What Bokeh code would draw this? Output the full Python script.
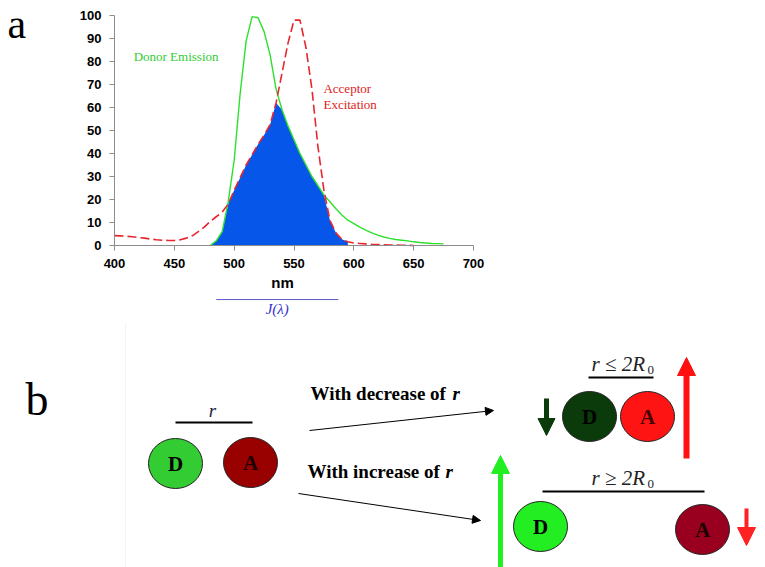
from bokeh.plotting import figure
from bokeh.models import Range1d, FixedTicker, Label, Arrow, NormalHead
from bokeh.layouts import column
from bokeh.embed import file_html
from bokeh.resources import INLINE
from bokeh.core.properties import value

# ---------------- data (panel a) ----------------
donor_nm = list(range(480, 680, 5))
donor = [0, 2, 6, 19, 37, 66, 89, 99.5, 99, 93,
         83, 68, 59, 52, 46, 40, 35, 30, 26, 22,
         19, 16, 13.3, 11, 9.5, 8, 6.7, 5.5, 4.5, 3.7,
         3.1, 2.6, 2.3, 2.0, 1.6, 1.3, 1.1, 0.9, 0.8, 0.7]

acceptor_nm = list(range(400, 655, 5))
acceptor = [4.3, 4.2, 4.0, 3.8, 3.5, 3.2, 2.8, 2.5, 2.3, 2.2,
            2.2, 2.5, 3.2, 4.2, 6.0, 8.0, 10.5, 12.5, 14.5, 18,
            24, 29.5, 35, 39.5, 44, 48, 52.5, 62, 75, 88,
            98, 98, 86, 68, 43, 24, 11, 5.5, 2.7, 1.6,
            1.1, 0.9, 0.7, 0.5, 0.4, 0.3, 0.2, 0.2, 0.1, 0.1, 0]

x_ticks = [400, 450, 500, 550, 600, 650, 700]
y_ticks = [0, 10, 20, 30, 40, 50, 60, 70, 80, 90, 100]
overlap_range = (480, 595)      # spectral overlap region shown in blue
j_range = (485, 587)            # J(lambda) bracket

acc_map = dict(zip(acceptor_nm, acceptor))
ov_nm = [w for w in donor_nm if w in acc_map and overlap_range[0] <= w <= overlap_range[1]]
ov_val = [min(d, acc_map[w]) for w, d in zip(donor_nm, donor) if w in ov_nm]

SERIF = "Liberation Serif"
SANS = "Liberation Sans"

# full-canvas frame; axes drawn at fixed data locations
W, HA, HB = 765, 323, 244
pxn = 359 / 300.0     # px per nm
pxv = 2.3             # px per intensity unit
x0_px, y0_px = 114, 245
pa = figure(width=W, height=HA, output_backend="svg", toolbar_location=None,
            x_range=Range1d(400 - x0_px / pxn, 400 + (W - x0_px) / pxn),
            y_range=Range1d(-(HA - y0_px) / pxv, y0_px / pxv),
            min_border=0)
pa.grid.visible = False
pa.outline_line_color = None
pa.xaxis.ticker = FixedTicker(ticks=x_ticks)
pa.yaxis.ticker = FixedTicker(ticks=y_ticks)
pa.xaxis.bounds = (400, 700)
pa.yaxis.bounds = (0, 100)
pa.xaxis.fixed_location = 0
pa.yaxis.fixed_location = 400
for ax in (pa.xaxis[0], pa.yaxis[0]):
    ax.axis_line_color = "#8c8c8c"
    ax.major_tick_line_color = "#8c8c8c"
    ax.major_tick_in = 0
    ax.major_tick_out = 5
    ax.minor_tick_line_color = None
    ax.major_label_text_font = SANS
    ax.major_label_text_font_style = "bold"
    ax.major_label_text_font_size = "13px"
    ax.major_label_text_color = "black"
    ax.major_label_standoff = 8

pa.varea(x=ov_nm, y1=[0] * len(ov_nm), y2=ov_val, fill_color="#0656ea")
pa.line(donor_nm, donor, line_color="#2ee02e", line_width=1.4)
pa.line(acceptor_nm, acceptor, line_color="#e8262e", line_width=1.6, line_dash="9 4")

pa.add_layout(Label(x=310.6, y=y0_px / pxv, text="a", text_font=SERIF, text_font_size="42px",
                    text_baseline="top", text_color="black"))
pa.add_layout(Label(x=416, y=82.2, text="Donor Emission", text_font=SERIF,
                    text_font_size="13px", text_baseline="middle", text_color="#33cc33"))
pa.add_layout(Label(x=574.6, y=68.3, text="Acceptor", text_font=SERIF,
                    text_font_size="13px", text_baseline="middle", text_color="#dd2222"))
pa.add_layout(Label(x=574.6, y=61.3, text="Excitation", text_font=SERIF,
                    text_font_size="13px", text_baseline="middle", text_color="#dd2222"))
pa.add_layout(Label(x=540.4, y=-16.1, text="nm", text_font=SANS, text_font_style="bold",
                    text_font_size="15px", text_align="center", text_baseline="middle",
                    text_color="black"))
pa.segment(x0=[j_range[0]], y0=[-23.5], x1=[j_range[1]], y1=[-23.5],
           line_color="#5a5acc", line_width=1)
pa.add_layout(Label(x=(j_range[0] + j_range[1]) / 2, y=-27.8, text="J(λ)", text_font=SERIF,
                    text_font_style="italic", text_font_size="15px", text_align="center",
                    text_baseline="middle", text_color="#3333cc"))

# ---------------- panel b (schematic, pixel-like coordinates) ----------------
pb = figure(width=W, height=HB, output_backend="svg", toolbar_location=None,
            x_range=Range1d(0, W), y_range=Range1d(HA + HB, HA),
            x_axis_type=None, y_axis_type=None, min_border=0)
pb.grid.visible = False
pb.outline_line_color = None

pb.segment(x0=[125], y0=[323], x1=[125], y1=[567], line_color="#f3f3f3", line_width=1)

pb.text(x=[25], y=[373], text=["b"], text_font=value(SERIF), text_font_size="46px",
        text_baseline="top", text_color="black")

pb.text(x=[212], y=[410], text=["r"], text_font=value(SERIF), text_font_style="italic",
        text_font_size="19px", text_align="center", text_baseline="middle", text_color="#222244")
pb.segment(x0=[175], y0=[422], x1=[252], y1=[422], line_color="black", line_width=2)

circ_x = [175, 250, 589, 647, 540, 702]
circ_y = [463, 462, 416, 416, 526, 529]
circ_fill = ["#33cc33", "#990000", "#0b3a0b", "#ff1414", "#22ee22", "#99001f"]
circ_lbl = ["D", "A", "D", "A", "D", "A"]
lbl_col = ["black", "#1a0000", "black", "#4a0000", "black", "#1a0000"]
pb.ellipse(x=circ_x, y=circ_y, width=54, height=50, fill_color=circ_fill,
           line_color="#222222", line_width=1)
pb.text(x=circ_x, y=circ_y, text=circ_lbl, text_font=value(SERIF), text_font_style="bold",
        text_font_size="21px", text_align="center", text_baseline="middle", text_color=lbl_col)

pb.text(x=[310], y=[393], text=["With decrease of"], text_font=value(SERIF),
        text_font_style="bold", text_font_size="19px", text_baseline="middle", text_color="black")
pb.text(x=[452], y=[393], text=["r"], text_font=value(SERIF),
        text_font_style="bold italic", text_font_size="19px", text_baseline="middle", text_color="black")
pb.text(x=[307], y=[471], text=["With increase of"], text_font=value(SERIF),
        text_font_style="bold", text_font_size="19px", text_baseline="middle", text_color="black")
pb.text(x=[445], y=[471], text=["r"], text_font=value(SERIF),
        text_font_style="bold italic", text_font_size="19px", text_baseline="middle", text_color="black")

pb.add_layout(Arrow(x_start=309, y_start=430, x_end=493, y_end=410, line_color="black", line_width=1,
                    end=NormalHead(size=8, fill_color="black", line_color="black")))
pb.add_layout(Arrow(x_start=298, y_start=493, x_end=480, y_end=520, line_color="black", line_width=1,
                    end=NormalHead(size=8, fill_color="black", line_color="black")))

pb.text(x=[591, 591], y=[363, 477], text=["r ≤ 2R", "r ≥ 2R"], text_font=value(SERIF),
        text_font_style="italic", text_font_size="21px", text_baseline="middle", text_color="#222222")
pb.text(x=[647, 647], y=[369, 483], text=["0", "0"], text_font=value(SERIF),
        text_font_size="13px", text_baseline="middle", text_color="#222222")
pb.segment(x0=[588, 542], y0=[377, 491], x1=[653, 704], y1=[377, 491],
           line_color="black", line_width=2)

for xs, ys, ye, col, lw, hs in [(546, 398, 435, "#0b3a0b", 5, 17),
                                (686, 458, 357, "#ff1111", 6, 18),
                                (500, 567, 455, "#22ee22", 5, 18),
                                (746, 508, 545, "#ff2222", 4, 18)]:
    pb.add_layout(Arrow(x_start=xs, y_start=ys, x_end=xs, y_end=ye, line_color=col, line_width=lw,
                        end=NormalHead(size=hs, fill_color=col, line_color=col)))

layout = column(pa, pb, spacing=0)
open("out.html", "w").write(file_html(layout, INLINE))
